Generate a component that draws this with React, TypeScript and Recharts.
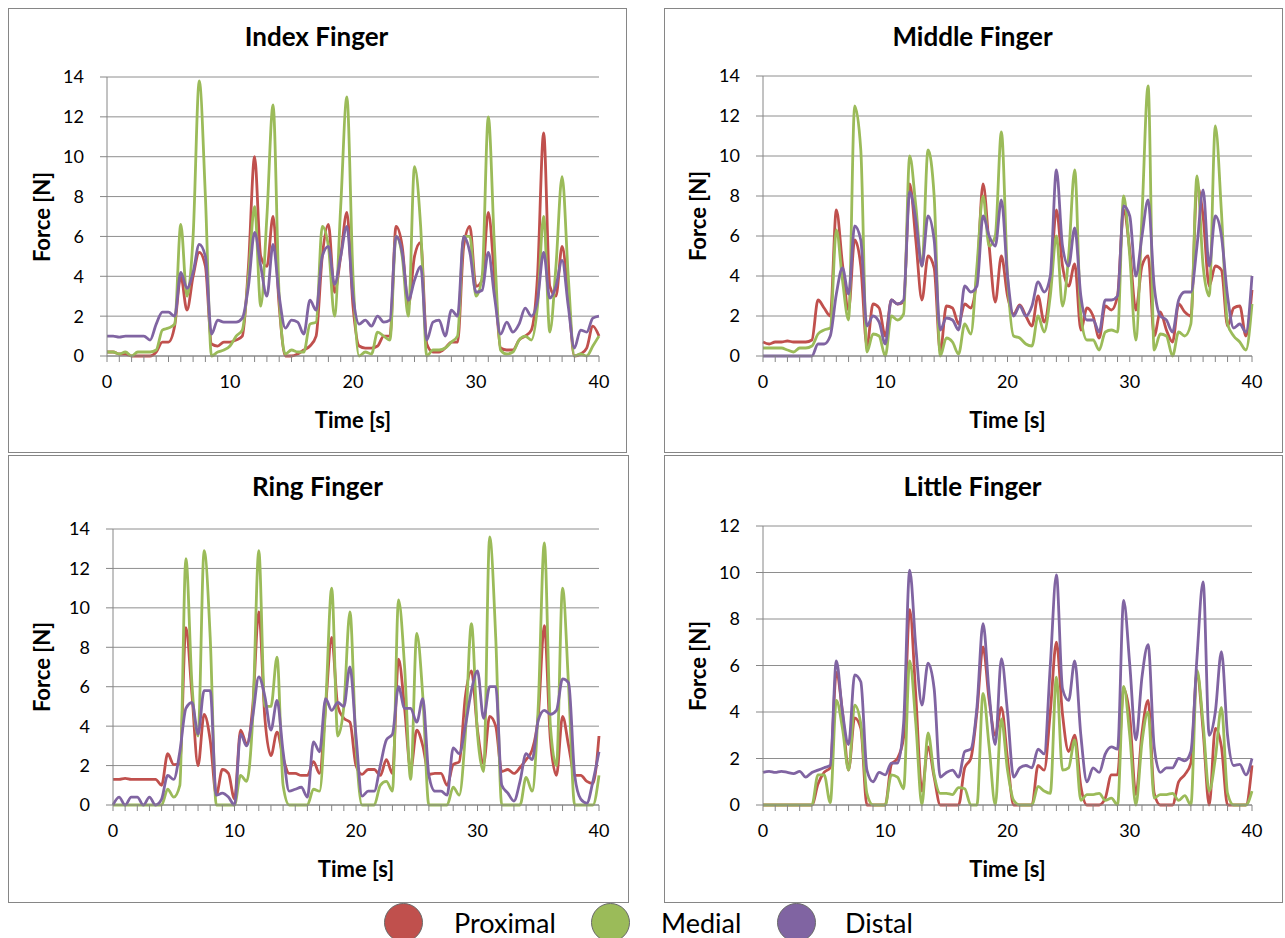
import React from 'react';
import { LineChart, Line, XAxis, YAxis, CartesianGrid } from 'recharts';

// sampling grid, seconds (0 .. 40 every 0.5 s)
const time = Array.from({ length: 81 }, (_, i) => i * 0.5);
const minorTicks = Array.from({ length: 41 }, (_, i) => i);
const yTicks14 = [0, 2, 4, 6, 8, 10, 12, 14];
const yTicks12 = [0, 2, 4, 6, 8, 10, 12];

const indexProximal = [
    0.2, 0.2, 0.1, 0.1, 0, 0, 0, 0, 0.2, 0.7,
    0.7, 1.5, 4.0, 2.3, 4.0, 5.2, 4.5, 0.6, 0.5, 0.7,
    0.7, 0.8, 1.0, 4.5, 10.0, 5.0, 4.5, 7.0, 2.5, 0,
    0, 0.1, 0.3, 0.5, 1.0, 5.0, 6.6, 3.2, 5.0, 7.2,
    2.5, 0.5, 0.4, 0.4, 0.5, 1.0, 1.0, 6.5, 5.5, 2.5,
    5.0, 5.7, 0.6, 0.2, 0.2, 0.4, 0.7, 0.7, 5.5, 6.5,
    3.5, 3.8, 7.2, 4.0, 0.4, 0.3, 0.3, 0.8, 1.0, 1.3,
    4.0, 11.2, 3.5, 3.0, 5.5, 3.0, 0, 0.1, 0.4, 1.5,
    1.0,
];
const indexMedial = [
    0.2, 0.2, 0.1, 0.2, 0, 0.2, 0.2, 0.2, 0.3, 1.3,
    1.4, 1.6, 6.6, 3.0, 6.0, 13.8, 8.0, 0, 0.2, 0.3,
    0.5, 1.0, 1.3, 4.0, 7.5, 2.5, 7.0, 12.6, 3.0, 0.1,
    0.3, 0.2, 0.2, 1.6, 1.7, 6.5, 5.5, 2.0, 7.5, 13.0,
    4.0, 0, 0.2, 0.1, 1.2, 1.0, 0.8, 6.0, 5.0, 2.0,
    9.5, 6.5, 0, 0.3, 0.3, 0.4, 0.7, 1.0, 6.0, 6.0,
    3.0, 4.0, 12.0, 5.5, 0.3, 0.1, 0.2, 0.8, 1.0, 0.8,
    2.5, 7.0, 1.2, 4.5, 9.0, 4.0, 0, 0.1, 0, 0.5,
    1.0,
];
const indexDistal = [
    1.0, 1.0, 0.95, 1.0, 1.0, 1.0, 1.0, 0.8, 1.6, 2.2,
    2.2, 2.0, 4.2, 3.4, 4.2, 5.6, 5.0, 1.1, 1.8, 1.7,
    1.7, 1.7, 1.9, 3.5, 6.2, 4.5, 3.0, 5.6, 3.0, 1.4,
    1.8, 1.7, 1.1, 2.8, 2.3, 5.0, 5.5, 3.6, 5.0, 6.5,
    3.0, 1.6, 1.8, 1.5, 2.0, 1.7, 1.8, 6.0, 5.2, 2.8,
    3.8, 4.5, 0.8, 1.7, 1.8, 1.0, 2.3, 2.0, 6.0, 5.2,
    3.2, 3.3, 5.2, 3.0, 1.1, 1.7, 1.2, 1.6, 2.4, 2.0,
    2.8, 5.2, 2.9, 3.5, 4.8, 2.5, 0.4, 1.3, 1.2, 1.9,
    2.0,
];

const middleProximal = [
    0.7, 0.6, 0.7, 0.7, 0.75, 0.7, 0.7, 0.7, 0.8, 2.8,
    2.4, 2.0, 7.3, 4.6, 2.3, 5.8, 4.5, 0.5, 2.6, 2.4,
    1.0, 2.8, 2.6, 2.7, 8.6, 5.8, 2.8, 5.0, 4.4, 0.2,
    2.5, 2.4, 1.6, 2.6, 2.4, 4.0, 8.6, 5.5, 2.7, 5.0,
    3.0, 2.1, 2.55, 2.0, 1.5, 3.0, 1.7, 3.5, 7.3, 4.5,
    3.5, 4.6, 1.3, 2.4, 2.0, 0.9, 2.5, 2.3, 3.0, 7.3,
    5.3, 2.3, 4.5, 5.0, 1.0, 2.2, 1.3, 0.7, 2.6, 2.2,
    2.0, 8.5, 7.0, 3.5, 4.5, 4.3, 1.5, 2.4, 2.5, 1.0,
    3.3,
];
const middleMedial = [
    0.4, 0.4, 0.4, 0.4, 0.3, 0.2, 0.4, 0.4, 0.5, 1.1,
    1.3, 1.4, 6.3, 3.8, 1.8, 12.5, 10.3, 0.2, 1.1, 1.0,
    0, 2.0, 1.8, 2.1, 10.0, 7.5, 4.5, 10.3, 8.0, 0,
    0.9, 0.7, 0.1, 1.6, 1.1, 4.5, 8.0, 5.5, 6.0, 11.2,
    4.0, 1.0, 0.9, 0.6, 0.5, 2.0, 1.2, 3.0, 6.0, 2.5,
    5.0, 9.3, 2.0, 0.8, 0.8, 0.3, 1.2, 1.3, 1.2, 8.0,
    5.0, 0.8, 7.0, 13.5, 0.3, 1.1, 1.0, 0, 1.2, 1.0,
    1.6, 9.0, 4.5, 3.0, 11.5, 7.2, 1.6, 1.0, 0.7, 0.3,
    2.6,
];
const middleDistal = [
    0, 0, 0, 0, 0, 0, 0, 0, 0, 0.6,
    0.6, 1.0, 3.1, 4.4, 3.1, 6.5, 5.8, 1.5, 2.0, 1.7,
    0.6, 2.8, 2.6, 2.8, 8.2, 6.8, 4.5, 7.0, 5.8, 1.3,
    1.9, 1.8, 1.3, 3.5, 3.2, 3.5, 7.0, 6.0, 5.5, 7.8,
    4.0, 2.0, 2.5, 2.0, 2.5, 3.7, 3.2, 4.0, 9.3, 5.5,
    4.5, 6.4, 3.0, 1.8, 1.8, 1.2, 2.8, 2.8, 3.0, 7.5,
    7.0, 4.0, 6.0, 7.8, 3.5, 2.0, 1.8, 1.2, 2.8, 3.2,
    3.2, 5.5, 8.3, 4.5, 7.0, 6.0, 3.0, 1.4, 1.6, 1.2,
    4.0,
];

const ringProximal = [
    1.3, 1.3, 1.35, 1.3, 1.3, 1.3, 1.3, 1.3, 1.0, 2.6,
    2.05, 2.1, 9.0, 5.6, 2.0, 4.6, 3.3, 0.5, 1.8, 1.6,
    0.3, 3.8, 3.1, 5.0, 9.8, 4.4, 2.5, 3.7, 2.4, 1.6,
    1.6, 1.5, 1.5, 2.2, 1.6, 5.0, 8.5, 5.0, 4.4, 4.2,
    2.0, 1.55, 1.8, 1.8, 1.5, 2.3, 1.6, 7.4, 4.9, 1.8,
    3.8, 3.0, 1.55, 1.6, 1.6, 1.0, 2.05, 2.2, 5.5, 6.8,
    3.8, 2.1, 4.5, 4.0, 1.7, 1.8, 1.6, 1.9, 2.3, 2.8,
    4.5, 9.1, 3.3, 1.5, 4.5, 3.0, 1.5, 1.5, 1.2, 1.1,
    3.5,
];
const ringMedial = [
    0, 0, 0, 0, 0, 0, 0, 0, 0, 0.8,
    0.4, 1.0, 12.5, 6.1, 3.5, 12.9, 8.5, 0, 0, 0,
    0, 1.5, 1.2, 4.4, 12.9, 5.0, 5.0, 7.5, 1.0, 0,
    0, 0, 0, 0.8, 0.7, 5.0, 11.0, 3.5, 5.0, 9.8,
    3.0, 0, 0, 0, 1.0, 1.2, 0.7, 10.4, 7.0, 1.3,
    8.7, 5.5, 0, 0, 0, 0, 0.9, 0.5, 3.6, 9.2,
    3.6, 1.7, 13.6, 8.5, 0, 0, 0, 0, 1.4, 0.7,
    5.0, 13.3, 4.0, 2.0, 11.0, 6.0, 0, 0, 0, 0,
    1.5,
];
const ringDistal = [
    0, 0.4, 0, 0.4, 0.4, 0, 0.4, 0, 0.3, 1.5,
    1.3, 2.7, 4.9, 5.2, 3.6, 5.8, 5.8, 0.5, 0.6, 0.4,
    0, 3.6, 3.0, 4.5, 6.5, 5.5, 3.8, 5.3, 2.7, 0.7,
    0.8, 0.9, 0.4, 3.2, 2.7, 5.4, 4.8, 5.2, 5.0, 7.0,
    3.5, 0.45, 0.7, 0.7, 2.0, 3.3, 3.6, 6.0, 4.9, 4.9,
    4.2, 5.4, 1.5, 0.7, 0.7, 0.5, 2.9, 2.6, 4.0, 5.8,
    6.8, 4.4, 6.0, 6.0, 1.0, 0.6, 0.2, 1.2, 2.6, 2.3,
    4.3, 4.8, 4.6, 4.8, 6.4, 6.2, 1.5, 0.3, 0.1, 1.2,
    2.7,
];

const littleProximal = [
    0, 0, 0, 0, 0, 0, 0, 0, 0, 0.9,
    1.4, 1.6, 5.7, 4.0, 1.5, 3.75, 3.3, 0, 0, 0,
    0, 1.75, 2.0, 2.9, 8.4, 4.7, 0.6, 2.5, 1.2, 0,
    0, 0, 0, 1.6, 2.0, 4.0, 6.8, 4.5, 3.0, 4.2,
    2.0, 0, 0, 0, 0, 1.7, 1.5, 4.0, 7.0, 3.9,
    2.3, 3.0, 0.8, 0, 0, 0, 0.3, 1.3, 1.3, 5.0,
    3.8, 0.45, 3.1, 4.5, 0.5, 0, 0, 0, 1.0, 1.3,
    1.8, 5.7, 3.2, 0, 3.3, 2.5, 0, 0, 0, 0,
    1.7,
];
const littleMedial = [
    0, 0, 0, 0, 0, 0, 0, 0, 0, 1.3,
    1.3, 0.1, 4.5, 3.3, 1.5, 4.3, 3.5, 0.5, 0, 0,
    0, 1.3, 1.2, 0.7, 6.2, 3.5, 0, 3.1, 1.3, 0.5,
    0.5, 0.45, 0.75, 0.7, 0, 0, 4.8, 2.5, 0, 3.7,
    1.5, 0.2, 0, 0, 0, 0.8, 0.6, 0.5, 5.5, 1.5,
    1.6, 2.8, 0.2, 0.45, 0.45, 0.5, 0.2, 0.3, 0, 5.1,
    3.0, 0, 2.7, 4.0, 0.3, 0.45, 0.45, 0.5, 0.2, 0.4,
    0, 5.8, 3.5, 0.6, 2.0, 4.2, 0.5, 0, 0, 0,
    0.6,
];
const littleDistal = [
    1.4, 1.45, 1.4, 1.45, 1.4, 1.35, 1.45, 1.2, 1.4, 1.5,
    1.6, 1.7, 6.2, 4.0, 2.6, 5.6, 5.3, 1.5, 1.0, 1.4,
    1.3, 1.8, 1.8, 3.5, 10.1, 6.8, 4.3, 6.1, 5.0, 1.2,
    1.4, 1.5, 1.2, 2.3, 2.4, 4.2, 7.8, 4.8, 2.6, 6.3,
    4.0, 1.2, 1.6, 1.7, 1.6, 2.4, 2.2, 6.0, 9.9, 5.0,
    4.5, 6.2, 3.0, 1.0, 1.6, 1.4, 2.2, 2.5, 2.4, 8.8,
    6.05, 2.8, 5.5, 6.9, 2.5, 1.4, 1.6, 1.6, 2.0, 1.9,
    2.3, 6.35, 9.6, 3.0, 4.0, 6.6, 3.0, 1.7, 1.75, 1.3,
    2.0,
];

const RED = '#C0504D';
const GREEN = '#9BBB59';
const PURPLE = '#8064A2';
const AXIS = '#868686';
const FONT = 'Lato, "Open Sans", sans-serif';
const X_AXIS_H = 40;

const buildRows = (p: number[], m: number[], d: number[]) =>
    time.map((t, i) => ({ t, proximal: p[i], medial: m[i], distal: d[i] }));

const panels = [
    {
        title: 'Index Finger',
        titleY: 36,
        box: { left: 8, top: 8, w: 619, h: 445 },
        plot: { left: 107, top: 77, right: 599, bottom: 356 },
        yTicks: yTicks14,
        rows: buildRows(indexProximal, indexMedial, indexDistal),
    },
    {
        title: 'Middle Finger',
        titleY: 36,
        box: { left: 664, top: 8, w: 619, h: 445 },
        plot: { left: 763, top: 76, right: 1252, bottom: 356 },
        yTicks: yTicks14,
        rows: buildRows(middleProximal, middleMedial, middleDistal),
    },
    {
        title: 'Ring Finger',
        titleY: 486,
        box: { left: 8, top: 455, w: 621, h: 448 },
        plot: { left: 113, top: 529, right: 599, bottom: 805 },
        yTicks: yTicks14,
        rows: buildRows(ringProximal, ringMedial, ringDistal),
    },
    {
        title: 'Little Finger',
        titleY: 486,
        box: { left: 664, top: 455, w: 619, h: 448 },
        plot: { left: 763, top: 526, right: 1252, bottom: 805 },
        yTicks: yTicks12,
        rows: buildRows(littleProximal, littleMedial, littleDistal),
    },
];

const centered = (cx: number, cy: number, extra: React.CSSProperties = {}, rotate = false): React.CSSProperties => ({
    position: 'absolute',
    left: cx,
    top: cy,
    transform: `translate(-50%, -50%)${rotate ? ' rotate(-90deg)' : ''}`,
    whiteSpace: 'nowrap',
    lineHeight: 1,
    fontWeight: 700,
    color: '#000',
    ...extra,
});

function Panel({ p }: { p: (typeof panels)[number] }) {
    const { box, plot } = p;
    const yMax = p.yTicks[p.yTicks.length - 1];
    const margin = {
        top: plot.top - box.top,
        right: box.left + box.w - plot.right,
        bottom: box.top + box.h - plot.bottom - X_AXIS_H,
        left: 0,
    };
    const tickStyle = { fill: '#000', fontSize: 18, fontFamily: FONT };
    return (
        <>
            <div
                style={{
                    position: 'absolute',
                    left: box.left,
                    top: box.top,
                    width: box.w,
                    height: box.h,
                    border: `1px solid ${AXIS}`,
                    boxSizing: 'border-box',
                }}
            />
            <div style={{ position: 'absolute', left: box.left, top: box.top }}>
                <LineChart width={box.w} height={box.h} data={p.rows} margin={margin}>
                    <CartesianGrid vertical={false} stroke="#8e8e8e" strokeWidth={1} />
                    <XAxis
                        dataKey="t"
                        type="number"
                        domain={[0, 40]}
                        ticks={minorTicks}
                        interval={0}
                        tickFormatter={(v: number) => (v % 10 === 0 ? String(v) : '')}
                        height={X_AXIS_H}
                        stroke={AXIS}
                        tickSize={6}
                        tickMargin={13}
                        tick={tickStyle}
                    />
                    <YAxis
                        type="number"
                        domain={[0, yMax]}
                        ticks={p.yTicks}
                        interval={0}
                        width={plot.left - box.left}
                        stroke={AXIS}
                        tickSize={7}
                        tickMargin={16}
                        tick={tickStyle}
                    />
                    <Line type="monotone" dataKey="proximal" stroke={RED} strokeWidth={2.8} dot={false} isAnimationActive={false} />
                    <Line type="monotone" dataKey="medial" stroke={GREEN} strokeWidth={2.8} dot={false} isAnimationActive={false} />
                    <Line type="monotone" dataKey="distal" stroke={PURPLE} strokeWidth={2.8} dot={false} isAnimationActive={false} />
                </LineChart>
            </div>
            <div style={centered(box.left + box.w / 2 - 1, p.titleY, { fontSize: 26 })}>{p.title}</div>
            <div style={centered(box.left + 34, (plot.top + plot.bottom) / 2, { fontSize: 22 }, true)}>Force [N]</div>
            <div style={centered((plot.left + plot.right) / 2, plot.bottom + 64, { fontSize: 22 })}>Time [s]</div>
        </>
    );
}

const legend = [
    { name: 'Proximal', color: RED, circle: 384, text: 454 },
    { name: 'Medial', color: GREEN, circle: 591, text: 661 },
    { name: 'Distal', color: PURPLE, circle: 777, text: 845 },
];

export default function App() {
    return (
        <div
            style={{
                position: 'absolute',
                left: 0,
                top: 0,
                width: 1285,
                height: 938,
                overflow: 'hidden',
                background: '#fff',
                fontFamily: FONT,
            }}
        >
            {panels.map((p) => (
                <Panel key={p.title} p={p} />
            ))}
            {legend.map((l) => (
                <React.Fragment key={l.name}>
                    <div
                        style={{
                            position: 'absolute',
                            left: l.circle,
                            top: 903,
                            width: 39,
                            height: 39,
                            borderRadius: '50%',
                            background: l.color,
                            border: '1px solid #6a6a6a',
                            boxSizing: 'border-box',
                        }}
                    />
                    <div
                        style={{
                            position: 'absolute',
                            left: l.text,
                            top: 909,
                            fontSize: 27,
                            lineHeight: 1,
                            color: '#000',
                        }}
                    >
                        {l.name}
                    </div>
                </React.Fragment>
            ))}
        </div>
    );
}
